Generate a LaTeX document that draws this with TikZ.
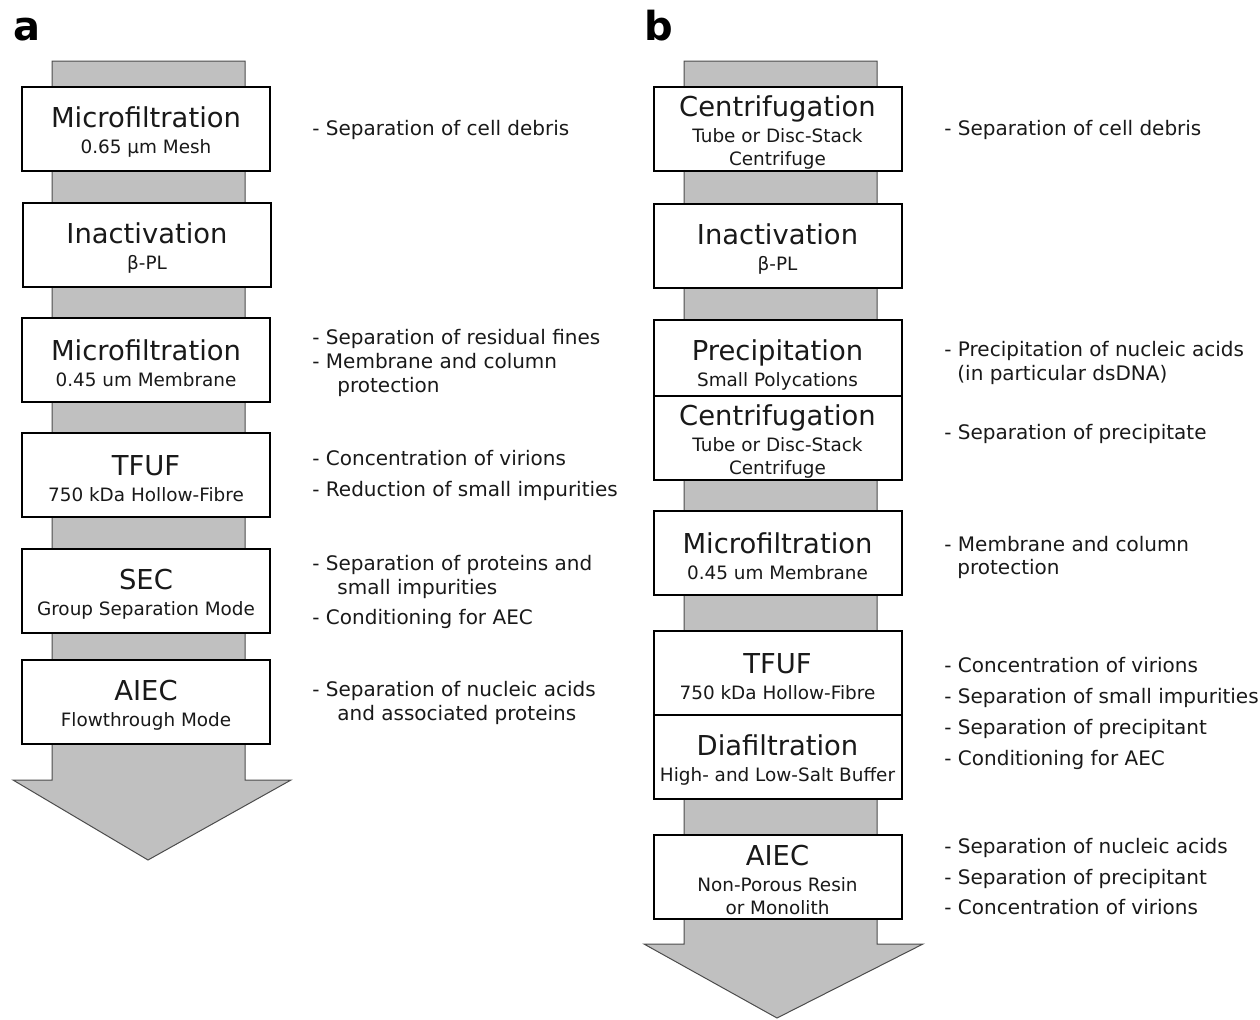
\documentclass[tikz,border=0pt]{standalone}
\usepackage{fontspec}
\setmainfont{DejaVu Sans}
\usepackage{xcolor}
\usepackage{tikz}
\usetikzlibrary{positioning}
\definecolor{flowgray}{RGB}{192,192,192}
\newcommand{\steptitle}[1]{{\fontsize{13.7}{15}\selectfont\rule{0pt}{13.5pt}#1}}

\begin{document}
\begin{tikzpicture}[x=0.5pt, y=-0.5pt,
  stepbox/.style={draw, line width=1pt, fill=white, minimum width=124pt, minimum height=42pt,
                  inner sep=0pt, outer sep=0pt, align=center, text=black!90,
                  font=\fontsize{9.2}{11.5}\selectfont},
  note/.style={anchor=base west, inner sep=0pt, text=black!90, font=\fontsize{10}{12}\selectfont},
  panel/.style={anchor=base west, inner sep=0pt, font=\fontsize{20}{24}\bfseries},
  flow/.style={fill=flowgray, draw=black!70, line width=0.5pt}
]
  \useasboundingbox (0,0) rectangle (1260,1019);

  % panel a
  \node[panel] (labA) at (13,40) {a};
  \draw[flow] (52,61) -- (245,61) -- (245,780) -- (291,780) -- (148,860) -- (13,780) -- (52,780) -- cycle;
  \node[stepbox] (mfA1) at (146,129) {\steptitle{Microfiltration}\\[1.5pt]0.65 µm Mesh};
  \node[stepbox] (inA)  at (147,245) {\steptitle{Inactivation}\\[1.5pt]β-PL};
  \node[stepbox] (mfA2) at (146,360) {\steptitle{Microfiltration}\\[1.5pt]0.45 um Membrane};
  \node[stepbox] (ufA)  at (146,475) {\steptitle{TFUF}\\[1.5pt]750 kDa Hollow-Fibre};
  \node[stepbox] (secA) at (146,591) {\steptitle{SEC}\\[1.5pt]Group Separation Mode};
  \node[stepbox] (aiA)  at (146,702) {\steptitle{AIEC}\\[1.5pt]Flowthrough Mode};

  \node[note] (nA1)  at (312,135.7) {- Separation of cell debris};
  \node[note] (nA2)  at (312,344)   {- Separation of residual fines};
  \node[note] (nA3)  at (312,368)   {- Membrane and column};
  \node[note] (nA3b) at (337,392)   {protection};
  \node[note] (nA4)  at (312,465.7) {- Concentration of virions};
  \node[note] (nA5)  at (312,496.7) {- Reduction of small impurities};
  \node[note] (nA6)  at (312,570)   {- Separation of proteins and};
  \node[note] (nA6b) at (337,594)   {small impurities};
  \node[note] (nA7)  at (312,624)   {- Conditioning for AEC};
  \node[note] (nA8)  at (312,696.7) {- Separation of nucleic acids};
  \node[note] (nA8b) at (337,720.7) {and associated proteins};

  % panel b
  \node[panel] (labB) at (644,40) {b};
  \draw[flow] (684,61) -- (877,61) -- (877,944) -- (923,944) -- (777,1018) -- (644,944) -- (684,944) -- cycle;
  \node[stepbox] (cfB1) at (777.5,129) {\steptitle{Centrifugation}\\[1.5pt]Tube or Disc-Stack\\Centrifuge};
  \node[stepbox] (inB)  at (777.5,246) {\steptitle{Inactivation}\\[1.5pt]β-PL};
  \node[stepbox] (prB)  at (777.5,362) {\steptitle{Precipitation}\\[1.5pt]Small Polycations};
  \node[stepbox, below=-4pt of prB] (cfB2) {\steptitle{Centrifugation}\\[1.5pt]Tube or Disc-Stack\\Centrifuge};
  \node[stepbox] (mfB)  at (777.5,553) {\steptitle{Microfiltration}\\[1.5pt]0.45 um Membrane};
  \node[stepbox] (ufB)  at (777.5,673) {\steptitle{TFUF}\\[1.5pt]750 kDa Hollow-Fibre};
  \node[stepbox, below=0pt of ufB] (dfB) {\steptitle{Diafiltration}\\[1.5pt]High- and Low-Salt Buffer};
  \node[stepbox] (aiB)  at (777.5,876.5) {\steptitle{AIEC}\\[1.5pt]Non-Porous Resin\\or Monolith};

  \node[note] (nB1)   at (944,135.7) {- Separation of cell debris};
  \node[note] (nB2)   at (944,356.7) {- Precipitation of nucleic acids};
  \node[note] (nB2b)  at (957,380)   {(in particular dsDNA)};
  \node[note] (nB3)   at (944,439)   {- Separation of precipitate};
  \node[note] (nB4)   at (944,551.7) {- Membrane and column};
  \node[note] (nB4b)  at (957,574.3) {protection};
  \node[note] (nB5)   at (944,672.3) {- Concentration of virions};
  \node[note] (nB6)   at (944,703.3) {- Separation of small impurities};
  \node[note] (nB7)   at (944,734.3) {- Separation of precipitant};
  \node[note] (nB8)   at (944,765)   {- Conditioning for AEC};
  \node[note] (nB9)   at (944,853.3) {- Separation of nucleic acids};
  \node[note] (nB10)  at (944,884.3) {- Separation of precipitant};
  \node[note] (nB11)  at (944,914.3) {- Concentration of virions};
\end{tikzpicture}
\end{document}
